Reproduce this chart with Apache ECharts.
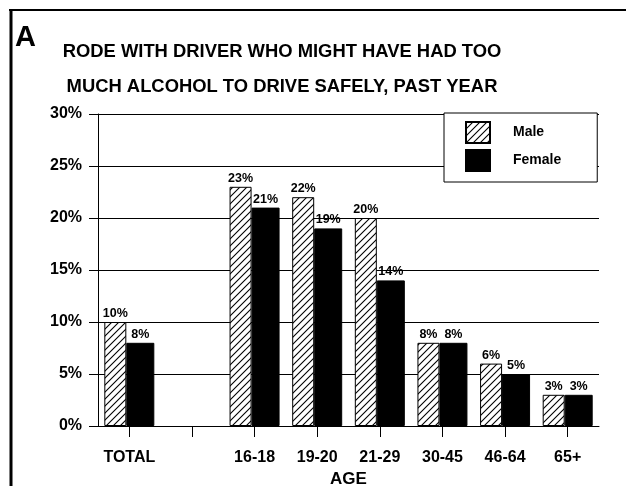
<!DOCTYPE html>
<html>
<head>
<meta charset="utf-8">
<script src="https://cdn.jsdelivr.net/npm/echarts@6/dist/echarts.min.js"></script>
<style>
html,body{margin:0;padding:0;background:#fff;}
#chart{width:626px;height:486px;}
</style>
</head>
<body>
<div id="chart"></div>
<script>
var categories = ['TOTAL', '', '16-18', '19-20', '21-29', '30-45', '46-64', '65+'];
var maleValues = [10, null, 23, 22, 20, 8, 6, 3];
var femaleValues = [8, null, 21, 19, 14, 8, 5, 3];
var titleLine1 = 'RODE WITH DRIVER WHO MIGHT HAVE HAD TOO';
var titleLine2 = 'MUCH ALCOHOL TO DRIVE SAFELY, PAST YEAR';
var panelLetter = 'A';
var seriesNames = ['Male', 'Female'];
var xAxisName = 'AGE';

var FONT = '"Liberation Sans", Arial, sans-serif';

function makeHatch() {
  var s = 7;
  var c = document.createElement('canvas');
  c.width = s; c.height = s;
  var ctx = c.getContext('2d');
  ctx.fillStyle = '#fff';
  ctx.fillRect(0, 0, s, s);
  ctx.strokeStyle = '#000';
  ctx.lineWidth = 1.1;
  ctx.beginPath();
  ctx.moveTo(0, s); ctx.lineTo(s, 0);
  ctx.moveTo(-1, 1); ctx.lineTo(1, -1);
  ctx.moveTo(s - 1, s + 1); ctx.lineTo(s + 1, s - 1);
  ctx.stroke();
  return c;
}
var hatch = { image: makeHatch(), repeat: 'repeat' };

var chart = echarts.init(document.getElementById('chart'), null, { renderer: 'canvas' });

var labelStyle = {
  show: true,
  position: 'top',
  distance: 2,
  color: '#000',
  fontFamily: FONT,
  fontWeight: 'bold',
  fontSize: 12.5,
  formatter: function (p) { return p.value == null ? '' : p.value + '%'; }
};

chart.setOption({
  backgroundColor: '#fff',
  animation: false,
  graphic: [
    { type: 'line', shape: { x1: 9, y1: 10, x2: 626, y2: 10 }, style: { stroke: '#000', lineWidth: 2 } },
    { type: 'line', shape: { x1: 11, y1: 9, x2: 11, y2: 486 }, style: { stroke: '#000', lineWidth: 3 } },
    { type: 'text', x: 15, y: 38, style: { text: panelLetter, font: 'bold 29px ' + FONT, fill: '#000', verticalAlign: 'middle', align: 'left' } },
    { type: 'text', x: 282, y: 52, style: { text: titleLine1, font: 'bold 18.4px ' + FONT, fill: '#000', verticalAlign: 'middle', align: 'center' } },
    { type: 'text', x: 282, y: 87, style: { text: titleLine2, font: 'bold 18.4px ' + FONT, fill: '#000', verticalAlign: 'middle', align: 'center' } }
  ],
  grid: { left: 98, right: 27, top: 114, bottom: 60, containLabel: false, outerBoundsMode: 'none' },
  legend: {
    left: 444,
    top: 113,
    orient: 'vertical',
    data: seriesNames,
    icon: 'rect',
    backgroundColor: '#fff',
    borderColor: '#000',
    borderWidth: 1,
    borderRadius: 0,
    padding: [8, 36, 10, 21],
    itemWidth: 24,
    itemHeight: 21,
    itemGap: 5,
    selectedMode: false,
    textStyle: { color: '#000', fontFamily: FONT, fontWeight: 'bold', fontSize: 14, padding: [0, 0, 0, 18] }
  },
  xAxis: {
    type: 'category',
    data: categories,
    boundaryGap: true,
    name: xAxisName,
    nameLocation: 'middle',
    nameGap: 45,
    nameTextStyle: { color: '#000', fontFamily: FONT, fontWeight: 'bold', fontSize: 17 },
    axisLine: { show: true, lineStyle: { color: '#000', width: 1 } },
    axisTick: { show: true, alignWithLabel: true, length: 11, interval: 0, lineStyle: { color: '#000' } },
    axisLabel: { interval: 0, color: '#000', fontFamily: FONT, fontWeight: 'bold', fontSize: 16, margin: 24 },
    splitLine: { show: false }
  },
  yAxis: {
    type: 'value',
    min: 0,
    max: 30,
    interval: 5,
    axisLine: { show: true, lineStyle: { color: '#000', width: 1 } },
    axisTick: { show: true, length: 9, lineStyle: { color: '#000' } },
    axisLabel: { color: '#000', fontFamily: FONT, fontWeight: 'bold', fontSize: 16, margin: 16, formatter: '{value}%' },
    splitLine: { show: true, lineStyle: { color: '#000', width: 1 } }
  },
  series: [
    {
      name: seriesNames[0],
      type: 'bar',
      data: maleValues,
      barWidth: 22,
      barGap: '0%',
      itemStyle: { color: hatch, borderColor: '#000', borderWidth: 1 },
      label: labelStyle
    },
    {
      name: seriesNames[1],
      type: 'bar',
      data: femaleValues,
      barWidth: 28,
      barGap: '0%',
      itemStyle: { color: '#000', borderColor: '#000', borderWidth: 1 },
      label: labelStyle
    }
  ]
});
</script>
</body>
</html>
